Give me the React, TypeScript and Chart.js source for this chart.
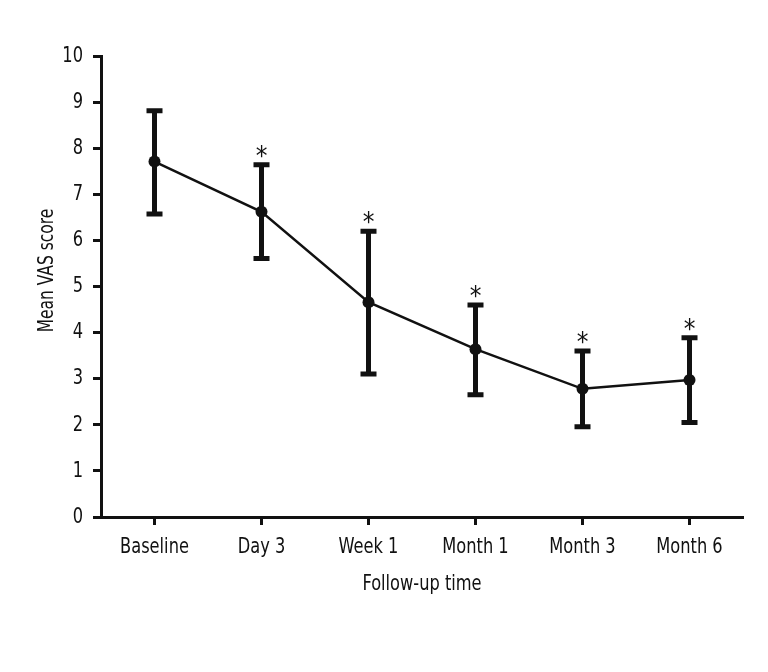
import React, { useEffect, useRef } from "react";
import { Chart, registerables } from "chart.js";

Chart.register(...registerables);

const categories = ["Baseline", "Day 3", "Week 1", "Month 1", "Month 3", "Month 6"];
const meanScores = [7.71, 6.62, 4.66, 3.64, 2.78, 2.97];
const upperBounds = [8.81, 7.64, 6.2, 4.6, 3.6, 3.89];
const lowerBounds = [6.57, 5.61, 3.1, 2.65, 1.96, 2.05];
const significance = ["", "*", "*", "*", "*", "*"];
const yTitle = "Mean VAS score";
const xTitle = "Follow-up time";

const FONT = "'DejaVu Sans Condensed', 'DejaVu Sans', sans-serif";
const STAR_FONT = "'DejaVu Sans Condensed', 'DejaVu Sans', sans-serif";
const INK = "#111111";
const SQUEEZE = 0.82;

function drawNarrowText(
  ctx: CanvasRenderingContext2D,
  text: string,
  x: number,
  y: number,
  size: number,
  align: CanvasTextAlign,
  rotate = false
) {
  ctx.save();
  ctx.translate(x, y);
  if (rotate) ctx.rotate(-Math.PI / 2);
  ctx.scale(SQUEEZE, 1);
  ctx.font = `${size}px ${FONT}`;
  ctx.textAlign = align;
  ctx.textBaseline = "middle";
  ctx.fillStyle = INK;
  ctx.fillText(text, 0, 0);
  ctx.restore();
}

const errorBarPlugin = {
  id: "errorBars",
  afterDatasetsDraw(chart: any) {
    const { ctx, scales } = chart;
    const xs = scales.x;
    const ys = scales.y;
    ctx.save();
    ctx.strokeStyle = INK;
    ctx.fillStyle = INK;
    ctx.lineCap = "butt";
    categories.forEach((_, i) => {
      const x = xs.getPixelForValue(i);
      const yU = ys.getPixelForValue(upperBounds[i]);
      const yL = ys.getPixelForValue(lowerBounds[i]);
      ctx.lineWidth = 5;
      ctx.beginPath();
      ctx.moveTo(x, yU);
      ctx.lineTo(x, yL);
      ctx.stroke();
      ctx.beginPath();
      ctx.moveTo(x - 8, yU);
      ctx.lineTo(x + 8, yU);
      ctx.moveTo(x - 8, yL);
      ctx.lineTo(x + 8, yL);
      ctx.stroke();
      if (significance[i]) {
        ctx.font = `26px ${STAR_FONT}`;
        ctx.textAlign = "center";
        ctx.textBaseline = "alphabetic";
        ctx.fillText(significance[i], x, yU);
      }
    });
    ctx.restore();
  },
  afterDraw(chart: any) {
    const { ctx, scales } = chart;
    const xs = scales.x;
    const ys = scales.y;
    ys.ticks.forEach((t: any, i: number) => {
      drawNarrowText(ctx, String(t.label), ys.right - 18, ys.getPixelForTick(i), 22, "right");
    });
    xs.ticks.forEach((t: any, i: number) => {
      drawNarrowText(ctx, String(t.label), xs.getPixelForTick(i), xs.top + 30, 22, "center");
    });
    drawNarrowText(ctx, xTitle, (xs.left + xs.right) / 2, xs.top + 67, 22, "center");
    drawNarrowText(ctx, yTitle, 48, (ys.top + ys.bottom) / 2 - 16, 21, "center", true);
  },
};

export default function App() {
  const canvasRef = useRef<HTMLCanvasElement | null>(null);

  useEffect(() => {
    if (!canvasRef.current) return;
    const chart = new Chart(canvasRef.current, {
      type: "line",
      data: {
        labels: categories,
        datasets: [
          {
            data: meanScores,
            borderColor: INK,
            borderWidth: 2.5,
            backgroundColor: INK,
            pointRadius: 6,
            pointBackgroundColor: INK,
            pointBorderColor: INK,
            pointBorderWidth: 0,
            tension: 0,
            fill: false,
          },
        ],
      },
      options: {
        responsive: false,
        animation: false,
        events: [],
        layout: { padding: { top: 56, right: 25, bottom: 75, left: 0 } },
        plugins: {
          legend: { display: false },
          tooltip: { enabled: false },
          title: { display: false },
        },
        scales: {
          x: {
            type: "category",
            offset: true,
            grid: {
              display: true,
              offset: false,
              drawOnChartArea: false,
              drawTicks: true,
              tickLength: 8,
              tickWidth: 3,
              tickColor: INK,
            },
            border: { display: true, color: INK, width: 3 },
            ticks: { display: false, autoSkip: false, maxRotation: 0 },
            afterFit(scale: any) {
              scale.height = 80;
            },
          },
          y: {
            min: 0,
            max: 10,
            grid: {
              display: true,
              drawOnChartArea: false,
              drawTicks: true,
              tickLength: 8,
              tickWidth: 3,
              tickColor: INK,
            },
            border: { display: true, color: INK, width: 3 },
            ticks: { display: false, stepSize: 1 },
            afterFit(scale: any) {
              scale.width = 101;
            },
          },
        },
      },
      plugins: [errorBarPlugin],
    } as any);
    return () => chart.destroy();
  }, []);

  return (
    <div style={{ position: "fixed", left: 0, top: 0, width: 768, height: 672, background: "#fff" }}>
      <canvas ref={canvasRef} width={768} height={672} style={{ display: "block" }} />
    </div>
  );
}
